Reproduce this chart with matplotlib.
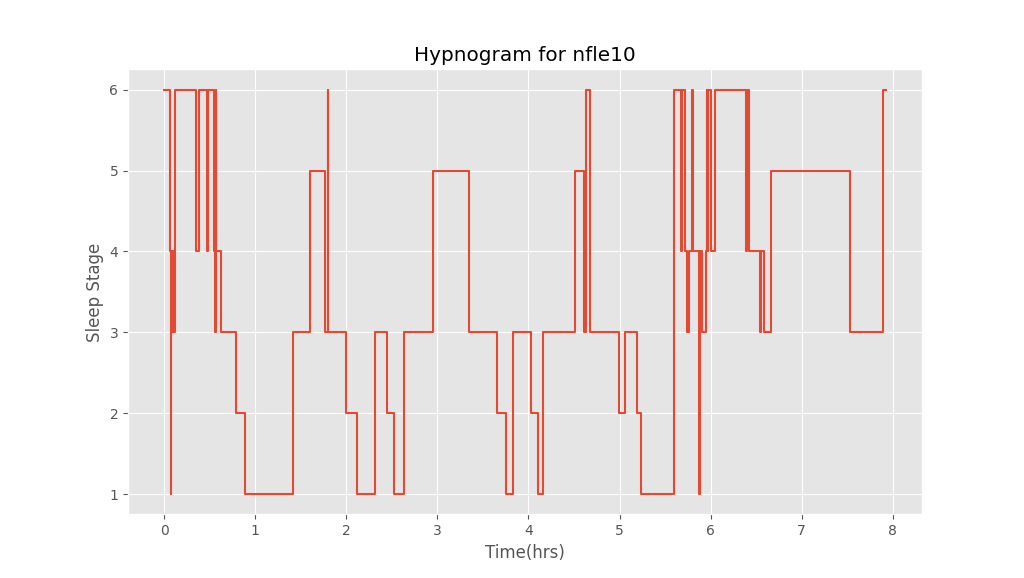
import matplotlib
matplotlib.use('Agg')
import matplotlib.pyplot as plt

# change points of the hypnogram (hours, stage)
hours = [0.0, 0.06, 0.075, 0.08, 0.09, 0.10, 0.11, 0.12, 0.353, 0.38,
         0.47, 0.48, 0.543, 0.555, 0.565, 0.575, 0.627, 0.79, 0.89, 1.41,
         1.60, 1.77, 1.795, 1.805, 2.00, 2.12, 2.32, 2.445, 2.52, 2.63,
         2.955, 3.35, 3.66, 3.75, 3.83, 4.025, 4.11, 4.155, 4.51, 4.615,
         4.635, 4.68, 4.99, 5.06, 5.19, 5.24, 5.60, 5.675, 5.69, 5.72,
         5.74, 5.76, 5.80, 5.81, 5.875, 5.885, 5.90, 5.945, 5.955, 5.965,
         5.975, 6.0, 6.05, 6.39, 6.40, 6.425, 6.545, 6.555, 6.59, 6.665,
         7.535, 7.89, 7.92]
stages = [6, 4, 1, 4, 3, 4, 3, 6, 4, 6,
          4, 6, 4, 3, 6, 4, 3, 2, 1, 3,
          5, 3, 6, 3, 2, 1, 3, 2, 1, 3,
          5, 3, 2, 1, 3, 2, 1, 3, 5, 3,
          6, 3, 2, 3, 2, 1, 6, 4, 6, 4,
          3, 4, 6, 4, 1, 4, 3, 4, 6, 4,
          6, 4, 6, 4, 6, 4, 3, 4, 3, 5,
          3, 6, 6]

plt.style.use('ggplot')
fig, ax = plt.subplots(figsize=(10.24, 5.78), dpi=100)
ax.step(hours, stages, where='post', linewidth=1.5)
ax.set_title('Hypnogram for nfle10')
ax.set_xlabel('Time(hrs)')
ax.set_ylabel('Sleep Stage')
fig.savefig('out.png', dpi=100)
